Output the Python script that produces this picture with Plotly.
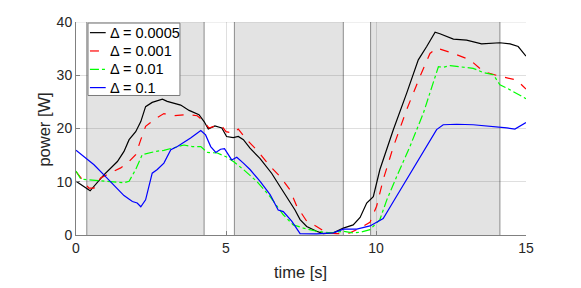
import plotly.graph_objects as go

# ---- data ----
t_black = [0.0, 0.47, 0.93, 1.38, 1.6, 1.77, 1.99, 2.16, 2.32, 2.54, 2.88, 3.04, 3.49, 3.77, 4.1, 4.27,
           4.41, 4.63, 4.86, 5.02, 5.24, 5.41, 5.58, 5.8, 6.13, 6.52, 6.8, 7.02, 7.3, 7.47, 7.69, 8.02,
           8.24, 8.58, 8.91, 9.24, 9.47, 9.69, 9.91, 10.13, 10.58, 11.02, 11.41, 11.69, 11.97, 12.13,
           12.58, 13.02, 13.52, 14.13, 14.47, 14.74, 15.0]
p_black = [10.1, 8.3, 11.3, 13.8, 15.7, 17.9, 19.4, 21.3, 24.1, 24.9, 25.5, 25.1, 24.4, 23.4, 22.6, 21.3,
           19.9, 20.5, 20.1, 18.5, 18.3, 18.5, 17.9, 16.3, 14.4, 11.6, 9.1, 7.2, 4.7, 2.9, 1.6, 0.7,
           0.25, 0.4, 1.3, 1.9, 3.3, 6.0, 7.2, 12.3, 19.8, 26.6, 32.9, 35.4, 38.1, 37.8,
           36.8, 36.6, 35.9, 36.1, 35.9, 35.4, 33.6]

t_red = [0.0, 0.16, 0.43, 0.6, 0.82, 1.16, 1.49, 1.77, 1.99, 2.16, 2.32, 2.66, 2.93, 3.27, 3.71, 4.04,
         4.27, 4.43, 4.66, 4.88, 5.0, 5.24, 5.41, 5.69, 6.02, 6.47, 6.8, 7.13, 7.36, 7.69, 8.02, 8.36,
         8.69, 9.02, 9.13, 9.47, 9.8, 10.02, 10.24, 10.58, 11.02, 11.47, 11.8, 12.02, 12.58, 13.13,
         13.58, 14.13, 14.69, 15.0]
p_red = [11.9, 10.7, 8.8, 8.8, 10.7, 11.7, 12.6, 13.8, 15.1, 17.9, 20.4, 21.9, 22.8, 22.4, 22.6, 22.4,
         21.3, 20.1, 20.5, 20.3, 19.4, 19.1, 19.9, 17.9, 16.0, 12.9, 11.0, 8.5, 5.4, 2.6, 1.6, 0.4,
         0.25, 0.25, 0.4, 1.3, 2.4, 5.4, 10.4, 16.6, 23.5, 29.8, 34.1, 35.1, 34.1, 32.9,
         30.7, 29.8, 29.1, 27.4]

t_green = [0.0, 0.16, 0.38, 0.82, 1.27, 1.6, 1.77, 1.99, 2.21, 2.43, 2.66, 2.93, 3.21, 3.6, 3.88, 4.16,
           4.38, 4.71, 5.04, 5.27, 5.58, 6.02, 6.47, 6.91, 7.24, 7.58, 8.02, 8.47, 8.91, 9.24, 9.47,
           9.8, 10.13, 10.36, 10.69, 11.13, 11.58, 11.86, 12.08, 12.24, 12.47, 13.24, 13.58, 13.91,
           14.13, 14.36, 14.69, 15.0]
p_green = [12.0, 10.5, 10.4, 10.2, 9.9, 9.8, 10.1, 12.3, 15.1, 15.4, 15.7, 15.9, 16.3, 16.9, 16.6, 16.6,
           15.5, 15.4, 14.6, 13.7, 12.3, 10.1, 7.2, 3.8, 1.9, 1.3, 0.7, 0.4, 0.7, 0.4, 0.5,
           1.0, 2.9, 6.6, 11.0, 16.6, 22.9, 27.9, 31.6, 31.5, 31.8, 31.3, 30.5, 30.1,
           28.2, 27.6, 26.6, 25.6]

t_blue = [0.0, 0.27, 0.6, 0.93, 1.27, 1.6, 1.88, 2.04, 2.16, 2.32, 2.54, 2.71, 2.93, 3.16, 3.38, 3.6,
          3.82, 4.16, 4.32, 4.49, 4.66, 4.82, 4.95, 5.19, 5.36, 5.58, 5.8, 6.13, 6.47, 6.74, 6.91,
          7.19, 7.47, 8.02, 8.58, 8.91, 9.36, 9.8, 10.24, 10.58, 11.02, 11.47, 11.8, 12.02, 12.24,
          12.69, 13.24, 13.69, 13.91, 14.36, 14.63, 15.0]
p_blue = [15.9, 14.7, 13.2, 11.3, 9.4, 7.4, 6.3, 6.0, 5.3, 6.6, 11.6, 12.3, 13.5, 16.0, 16.6, 17.4,
          18.2, 19.6, 18.8, 16.6, 15.5, 16.1, 16.2, 14.1, 14.6, 13.5, 12.3, 10.1, 7.6, 4.7, 4.4,
          2.6, 0.25, 0.2, 0.4, 1.1, 1.1, 1.7, 3.1, 6.3, 10.4, 14.7, 17.6, 19.8, 20.7,
          20.8, 20.7, 20.5, 20.3, 20.1, 19.9, 21.1]

shade_start = [0.36, 5.28, 9.82]
shade_end = [4.27, 8.91, 14.13]

x_ticks = [0, 5, 10, 15]
y_ticks = [0, 10, 20, 30, 40]
x_title = "time [s]"
y_title = "power [W]"

series_names = ["Δ = 0.0005", "Δ = 0.001", "Δ = 0.01", "Δ = 0.1"]
series_t = [t_black, t_red, t_green, t_blue]
series_p = [p_black, p_red, p_green, p_blue]
series_color = ["#000000", "#ff0000", "#00ff00", "#0000ff"]
series_dash = ["solid", "dash", "dashdot", "solid"]

fig = go.Figure()
for name, t, p, c, d in zip(series_names, series_t, series_p, series_color, series_dash):
    fig.add_trace(go.Scatter(x=t, y=p, mode="lines", name=name, showlegend=False,
                             line=dict(color=c, width=1.2, dash=d)))

grid_col = "rgba(38,38,38,0.15)"
shapes = []
for a, b in zip(shade_start, shade_end):
    shapes.append(dict(type="rect", xref="x", yref="y", x0=a, x1=b, y0=0, y1=40,
                       fillcolor="#e3e3e3", line=dict(width=0), layer="below"))
    for xv in (a, b):
        shapes.append(dict(type="line", xref="x", yref="y", x0=xv, x1=xv, y0=0, y1=40,
                           line=dict(color="#8c8c8c", width=1), layer="below"))
shapes.append(dict(type="line", xref="x", yref="y", x0=0, x1=15, y0=40, y1=40,
                   line=dict(color=grid_col, width=1), layer="above"))

# ---- legend box (MATLAB style), drawn in paper coordinates ----
leg_x0, leg_x1, leg_y0, leg_y1 = 0.0267, 0.231, 0.655, 0.995
shapes.append(dict(type="rect", xref="paper", yref="paper", x0=leg_x0, x1=leg_x1,
                   y0=leg_y0, y1=leg_y1, fillcolor="white",
                   line=dict(color="#7a7a7a", width=1), layer="above"))
row_y = [0.950, 0.864, 0.778, 0.692]
annotations = []
for name, c, d, yy in zip(series_names, series_color, series_dash, row_y):
    shapes.append(dict(type="line", xref="paper", yref="paper", x0=0.031, x1=0.066,
                       y0=yy, y1=yy, line=dict(color=c, width=1.2, dash=d), layer="above"))
    annotations.append(dict(xref="paper", yref="paper", x=0.071, y=yy, text=name,
                            showarrow=False, xanchor="left", yanchor="middle",
                            font=dict(size=14.5, color="#000000")))

# axis titles
annotations.append(dict(xref="paper", yref="paper", x=0.499, y=-0.172, text=x_title,
                        showarrow=False, xanchor="center", yanchor="middle",
                        font=dict(size=16.5, color="#262626")))
annotations.append(dict(xref="paper", yref="paper", x=-0.071, y=0.495, text=y_title,
                        showarrow=False, xanchor="center", yanchor="middle", textangle=-90,
                        font=dict(size=16.5, color="#262626")))

fig.update_layout(
    width=573, height=280,
    margin=dict(l=68, r=55, t=14, b=53),
    paper_bgcolor="white", plot_bgcolor="white",
    font=dict(family="Liberation Sans, Arial, sans-serif", size=14, color="#262626"),
    shapes=shapes, annotations=annotations,
    showlegend=False,
    xaxis=dict(range=[0, 15], tickvals=x_ticks, ticks="inside", ticklen=4, tickcolor="#808080",
               showline=True, linecolor="#808080", linewidth=1, mirror=False, automargin=False,
               showgrid=True, gridcolor=grid_col, zeroline=False),
    yaxis=dict(range=[0, 40], tickvals=y_ticks, ticks="inside", ticklen=4, tickcolor="#808080",
               showline=True, linecolor="#808080", linewidth=1, mirror=False, automargin=False,
               showgrid=True, gridcolor=grid_col, zeroline=False),
)

fig.write_html("out.html")
